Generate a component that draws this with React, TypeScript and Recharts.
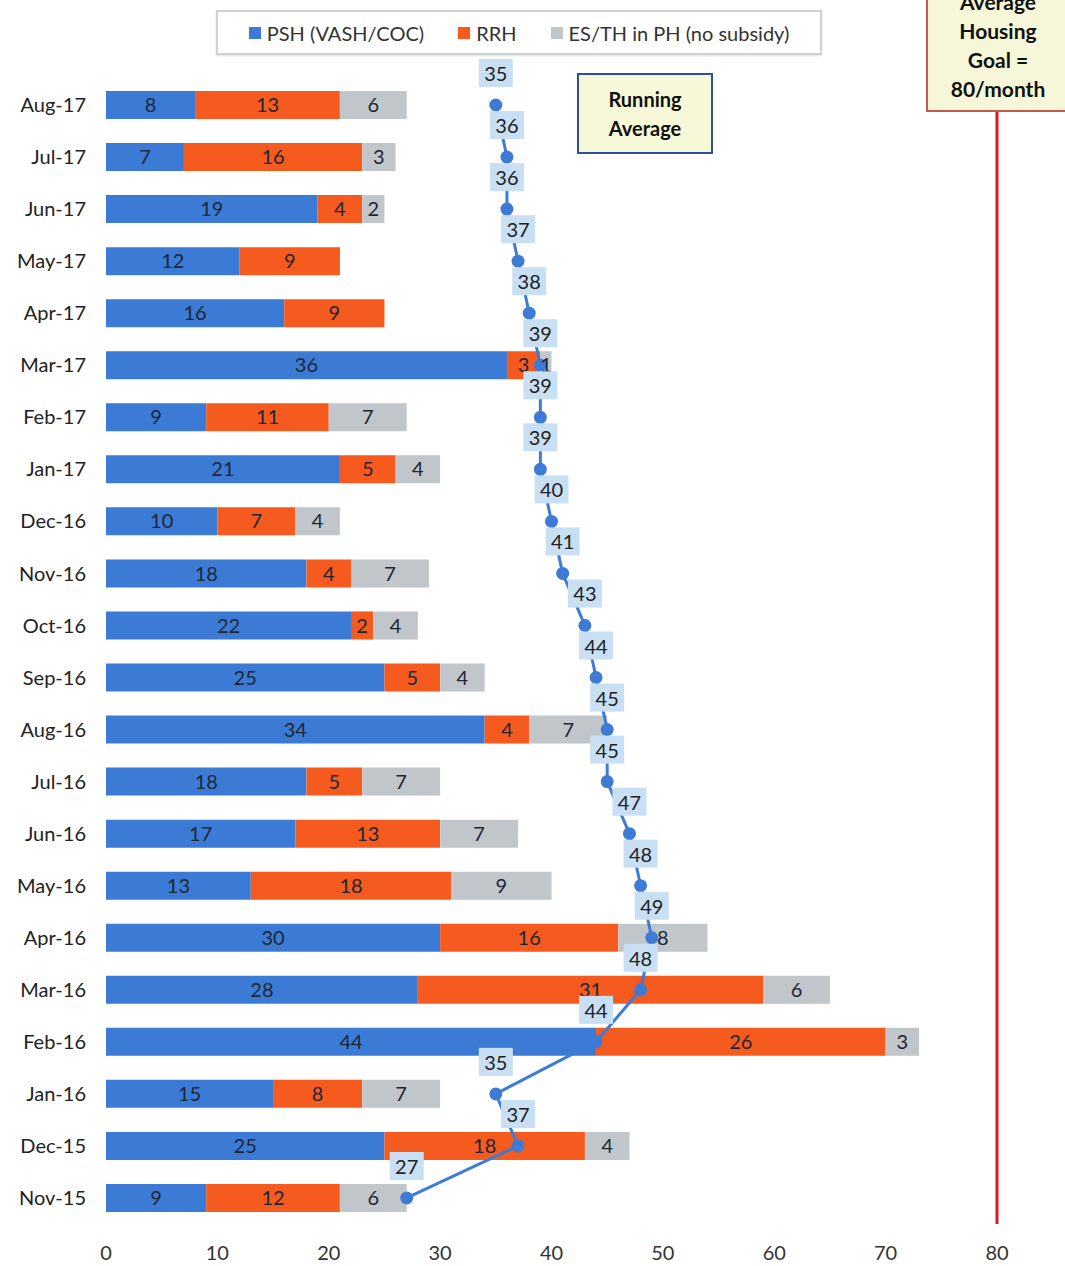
import {
  ComposedChart,
  Bar,
  Line,
  XAxis,
  YAxis,
  LabelList,
  ReferenceLine,
  Legend,
} from "recharts";

const months = [
  "Aug-17", "Jul-17", "Jun-17", "May-17", "Apr-17", "Mar-17", "Feb-17", "Jan-17",
  "Dec-16", "Nov-16", "Oct-16", "Sep-16", "Aug-16", "Jul-16", "Jun-16", "May-16",
  "Apr-16", "Mar-16", "Feb-16", "Jan-16", "Dec-15", "Nov-15",
];
const psh = [8, 7, 19, 12, 16, 36, 9, 21, 10, 18, 22, 25, 34, 18, 17, 13, 30, 28, 44, 15, 25, 9];
const rrh = [13, 16, 4, 9, 9, 3, 11, 5, 7, 4, 2, 5, 4, 5, 13, 18, 16, 31, 26, 8, 18, 12];
const esth = [6, 3, 2, 0, 0, 1, 7, 4, 4, 7, 4, 4, 7, 7, 7, 9, 8, 6, 3, 7, 4, 6];
const runningAvg = [35, 36, 36, 37, 38, 39, 39, 39, 40, 41, 43, 44, 45, 45, 47, 48, 49, 48, 44, 35, 37, 27];
const xTicks = [0, 10, 20, 30, 40, 50, 60, 70, 80];
const goal = 80;

const series = [
  { key: "psh", name: "PSH (VASH/COC)", color: "#3b7bd6" },
  { key: "rrh", name: "RRH", color: "#f55a1e" },
  { key: "esth", name: "ES/TH in PH (no subsidy)", color: "#c0c6ca" },
];

const data = months.map((month, i) => ({
  month,
  psh: psh[i],
  rrh: rrh[i],
  esth: esth[i],
  avg: runningAvg[i],
}));

const FONT = "Lato, 'Open Sans', sans-serif";

const hideZero = (v: any) => (Number(v) === 0 ? "" : v);

function AvgLabel(props: any) {
  const { x, y, value } = props;
  return (
    <g>
      <rect x={x - 17} y={y - 46} width={34} height={28} fill="#c9dff3" />
      <text
        x={x}
        y={y - 32}
        textAnchor="middle"
        dominantBaseline="central"
        fontSize={20}
        fontFamily={FONT}
        fill="#222"
      >
        {value}
      </text>
    </g>
  );
}

function LegendBox() {
  return (
    <div
      style={{
        border: "2px solid #cfd2d4",
        boxShadow: "0 1px 2px #e0e0e0",
        height: 41,
        display: "flex",
        alignItems: "center",
        justifyContent: "center",
        gap: 34,
        fontFamily: FONT,
        fontSize: 20,
        color: "#333",
        background: "#fff",
      }}
    >
      {series.map((s) => (
        <span key={s.key} style={{ display: "flex", alignItems: "center" }}>
          <span style={{ width: 12, height: 12, background: s.color, marginRight: 6 }} />
          {s.name}
        </span>
      ))}
    </div>
  );
}

export default function App() {
  return (
    <div
      style={{
        position: "absolute",
        left: 0,
        top: 0,
        width: 1065,
        height: 1266,
        overflow: "hidden",
        background: "#fff",
        fontFamily: FONT,
      }}
    >
      <ComposedChart
        width={1065}
        height={1266}
        data={data}
        layout="vertical"
        margin={{ top: 79, right: 68, bottom: 12, left: 0 }}
      >
        <XAxis
          type="number"
          domain={[0, 80]}
          ticks={xTicks}
          axisLine={false}
          tickLine={false}
          tickMargin={16}
          height={30}
          tick={{ fontSize: 20, fill: "#333", fontFamily: FONT }}
        />
        <YAxis
          type="category"
          dataKey="month"
          width={106}
          axisLine={false}
          tickLine={false}
          tickMargin={14}
          tick={{ fontSize: 20, fill: "#222", fontFamily: FONT }}
        />
        <Legend
          content={() => <LegendBox />}
          layout="horizontal"
          verticalAlign="middle"
          align="center"
          wrapperStyle={{ top: 10, left: 216, width: 606 }}
        />
        <ReferenceLine x={goal} stroke="#d7191f" strokeWidth={3} />
        {series.map((s) => (
          <Bar
            key={s.key}
            dataKey={s.key}
            name={s.name}
            stackId="a"
            fill={s.color}
            barSize={28}
            isAnimationActive={false}
          >
            <LabelList
              dataKey={s.key}
              position="center"
              formatter={hideZero}
              style={{ fontSize: 20, fill: "#1d2633", fontFamily: FONT }}
            />
          </Bar>
        ))}
        <Line
          type="linear"
          dataKey="avg"
          name="Running Average"
          stroke="#3d7bd4"
          strokeWidth={3}
          dot={{ r: 5, fill: "#3d7bd4", stroke: "#3d7bd4" }}
          isAnimationActive={false}
        >
          <LabelList dataKey="avg" content={<AvgLabel />} />
        </Line>
      </ComposedChart>

      <div
        style={{
          position: "absolute",
          left: 577,
          top: 73,
          width: 132,
          height: 77,
          border: "2px solid #2e4f9e",
          background: "#f7f8d7",
          display: "flex",
          alignItems: "center",
          justifyContent: "center",
          textAlign: "center",
          fontWeight: 700,
          fontSize: 20,
          lineHeight: "29px",
          color: "#111",
        }}
      >
        Running
        <br />
        Average
      </div>

      <div
        style={{
          position: "absolute",
          left: 926,
          top: -22,
          width: 148,
          height: 130,
          border: "2px solid #c45a4e",
          background: "#f5f7d8",
          display: "flex",
          alignItems: "center",
          justifyContent: "center",
          textAlign: "center",
          fontWeight: 700,
          fontSize: 21,
          lineHeight: "29px",
          color: "#111",
        }}
      >
        <div style={{ marginLeft: -8 }}>
          Average
          <br />
          Housing
          <br />
          Goal =
          <br />
          80/month
        </div>
      </div>
    </div>
  );
}
